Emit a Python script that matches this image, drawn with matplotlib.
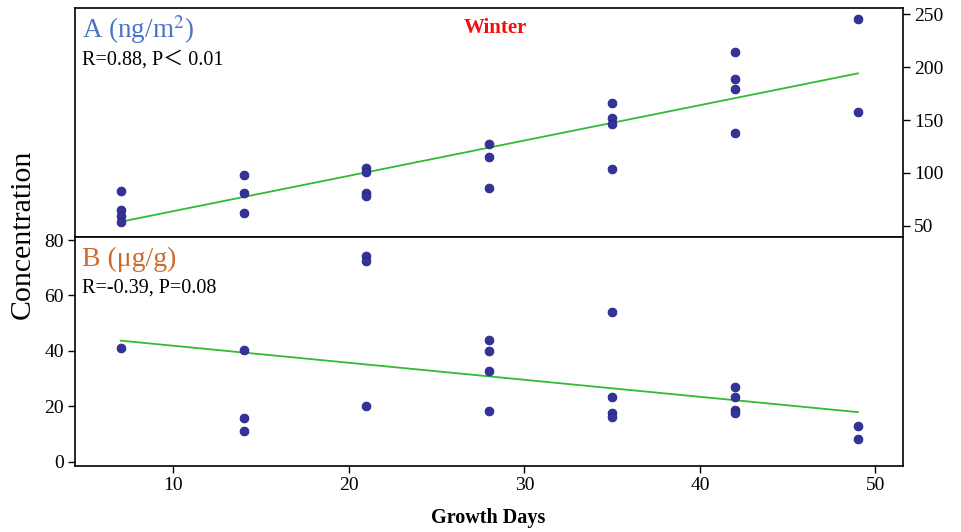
import numpy as np
import matplotlib
matplotlib.use("Agg")
import matplotlib.pyplot as plt

plt.rcParams['font.family'] = ['Liberation Serif', 'Noto Sans CJK SC', 'DejaVu Sans']
plt.rcParams['mathtext.fontset'] = 'stix'

# Panel A (ng/m2), growth days vs concentration
a_days = [7, 7, 7, 7, 14, 14, 14, 21, 21, 21, 21, 28, 28, 28,
          35, 35, 35, 35, 42, 42, 42, 42, 49, 49]
a_values = [83, 65, 59, 54, 98, 81, 62, 105, 101, 81, 78, 127, 115, 86,
            166, 152, 146, 104, 214, 189, 179, 138, 245, 158]
a_fit_days = [7, 49]
a_fit_values = [54, 194]

# Panel B (ug/g)
b_days = [7, 14, 14, 14, 21, 21, 21, 28, 28, 28, 28,
          35, 35, 35, 35, 42, 42, 42, 42, 49, 49]
b_values = [40.9, 40.4, 15.9, 11.1, 74.3, 72.6, 20.1, 43.9, 39.9, 32.9, 18.2,
            53.9, 23.5, 17.7, 16, 26.9, 23.5, 18.7, 17.5, 12.9, 8.2]
b_fit_days = [7, 49]
b_fit_values = [43.7, 17.9]

x_ticks = [10, 20, 30, 40, 50]
a_ticks = [50, 100, 150, 200, 250]
b_ticks = [0, 20, 40, 60, 80]

point_color = '#333399'
line_color = '#33bb33'

fig = plt.figure(figsize=(9.62, 5.32), dpi=100)
ax_a = fig.add_axes([0.078, 0.5545, 0.8607, 0.4305])
ax_b = fig.add_axes([0.078, 0.124, 0.8607, 0.4305], sharex=ax_a)

# Top panel
ax_a.plot(a_fit_days, a_fit_values, color=line_color, lw=1.3, zorder=2)
ax_a.scatter(a_days, a_values, s=40, color=point_color, edgecolor='#262680', linewidth=0.6, zorder=3)
ax_a.set_ylim(39.6, 255.7)
ax_a.set_xlim(4.4, 51.57)
ax_a.yaxis.tick_right()
ax_a.set_yticks(a_ticks)
ax_a.tick_params(axis='x', bottom=False, labelbottom=False)
ax_a.tick_params(axis='y', direction='out', length=5, width=1, labelsize=14, pad=3)

ax_a.text(0.008, 0.904, 'A (ng/m$^{2}$)', transform=ax_a.transAxes, color='#4a74c4',
          fontsize=19.5, va='center', ha='left')
ax_a.text(0.008, 0.773, 'R=0.88, P\uff1c 0.01', transform=ax_a.transAxes, color='black',
          fontsize=14.5, va='center', ha='left')
ax_a.text(0.508, 0.912, 'Winter', transform=ax_a.transAxes, color='#f01010',
          fontsize=15, fontweight='bold', va='center', ha='center')

# Bottom panel
ax_b.plot(b_fit_days, b_fit_values, color=line_color, lw=1.3, zorder=2)
ax_b.scatter(b_days, b_values, s=40, color=point_color, edgecolor='#262680', linewidth=0.6, zorder=3)
ax_b.set_ylim(-1.55, 81.1)
ax_b.set_yticks(b_ticks)
ax_b.set_xticks(x_ticks)
ax_b.tick_params(direction='out', length=5, width=1, labelsize=14, pad=3)

ax_b.text(0.008, 0.9, 'B (\u03bcg/g)', transform=ax_b.transAxes, color='#cc6a2c',
          fontsize=20, va='center', ha='left')
ax_b.text(0.008, 0.777, 'R=-0.39, P=0.08', transform=ax_b.transAxes, color='black',
          fontsize=14.5, va='center', ha='left')

for ax in (ax_a, ax_b):
    for spine in ax.spines.values():
        spine.set_linewidth(1.2)

fig.text(0.024, 0.56, 'Concentration', rotation=90, fontsize=21.5, va='center', ha='center')
fig.text(0.507, 0.026, 'Growth Days', fontsize=14.5, fontweight='bold', va='center', ha='center')

fig.savefig('out.png', dpi=100)
